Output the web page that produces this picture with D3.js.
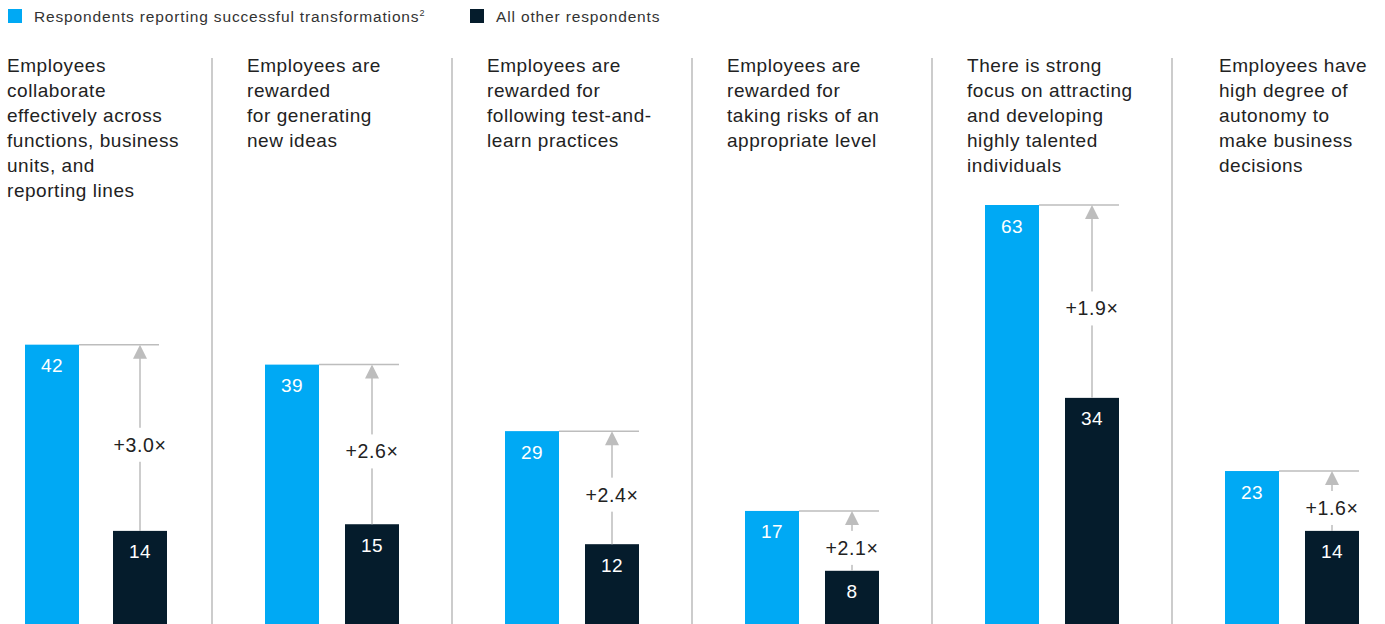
<!DOCTYPE html>
<html>
<head>
<meta charset="utf-8">
<script src="https://cdn.jsdelivr.net/npm/d3@7"></script>
<style>
  html, body { margin: 0; padding: 0; background: #fff; }
  svg { display: block; font-family: "Liberation Sans", Arial, sans-serif; }
</style>
</head>
<body>
<svg id="chart" width="1385" height="624"></svg>
<script>
// Share of respondents agreeing with each statement, %
const categories = [
  ["Employees", "collaborate", "effectively across", "functions, business", "units, and", "reporting lines"],
  ["Employees are", "rewarded", "for generating", "new ideas"],
  ["Employees are", "rewarded for", "following test-and-", "learn practices"],
  ["Employees are", "rewarded for", "taking risks of an", "appropriate level"],
  ["There is strong", "focus on attracting", "and developing", "highly talented", "individuals"],
  ["Employees have", "high degree of", "autonomy to", "make business", "decisions"]
];
const successful = [42, 39, 29, 17, 63, 23];
const others = [14, 15, 12, 8, 34, 14];
const multipliers = ["+3.0×", "+2.6×", "+2.4×", "+2.1×", "+1.9×", "+1.6×"];
const legendLabels = ["Respondents reporting successful transformations", "All other respondents"];

const BLUE = "#00A9F4";
const NAVY = "#051C2C";
const GREY = "#BDBDBD";

const W = 1385, H = 624;
const svg = d3.select("#chart");

const panelW = 240;
const x = d3.scaleLinear().domain([0, categories.length]).range([0, panelW * categories.length]);
const y = d3.scaleLinear().domain([0, 63]).range([H, 205]);

const barW = 54;
const blueOff = 25;
const navyOff = [113, 105, 105, 105, 105, 105];
const textOff = [7, 7, 7, 7, 7, 19];
const lineEnd = 159;

// Legend
const legend = svg.append("g");
const legendItems = [
  { x: 8, color: BLUE, label: legendLabels[0], sup: "2" },
  { x: 470, color: NAVY, label: legendLabels[1] }
];
legendItems.forEach(d => {
  legend.append("rect").attr("x", d.x).attr("y", 9).attr("width", 14).attr("height", 14).attr("fill", d.color);
  const t = legend.append("text").attr("x", d.x + 26).attr("y", 21.5)
    .attr("font-size", 15.5).attr("letter-spacing", 0.85).attr("fill", "#333").text(d.label);
  if (d.sup) t.append("tspan").attr("font-size", 9).attr("letter-spacing", 0).attr("dy", -6).attr("dx", 0).text(d.sup);
});

// Dividers between panels
svg.selectAll("line.divider").data(d3.range(1, categories.length)).join("line")
  .attr("class", "divider")
  .attr("x1", i => x(i) - 28).attr("x2", i => x(i) - 28)
  .attr("y1", 58).attr("y2", H)
  .attr("stroke", "#CCCCCC").attr("stroke-width", 2);

const panels = svg.selectAll("g.panel").data(categories).join("g")
  .attr("class", "panel")
  .attr("transform", (d, i) => `translate(${x(i)},0)`);

// Statement text
panels.append("text")
  .attr("font-size", 19).attr("letter-spacing", 0.55).attr("fill", "#222")
  .each(function (lines, i) {
    d3.select(this).selectAll("tspan").data(lines).join("tspan")
      .attr("x", textOff[i]).attr("y", (l, k) => 72 + k * 25).text(l => l);
  });

// Reference line from the top of the blue bar
panels.append("line")
  .attr("x1", blueOff + barW).attr("x2", lineEnd)
  .attr("y1", (d, i) => y(successful[i])).attr("y2", (d, i) => y(successful[i]))
  .attr("stroke", GREY).attr("stroke-width", 1.5);

// Bars
panels.append("rect")
  .attr("x", blueOff).attr("width", barW)
  .attr("y", (d, i) => y(successful[i]))
  .attr("height", (d, i) => H - y(successful[i]))
  .attr("fill", BLUE);
panels.append("rect")
  .attr("x", (d, i) => navyOff[i]).attr("width", barW)
  .attr("y", (d, i) => y(others[i]))
  .attr("height", (d, i) => H - y(others[i]))
  .attr("fill", NAVY);

// Value labels
panels.append("text")
  .attr("x", blueOff + barW / 2).attr("y", (d, i) => y(successful[i]) + 27.5)
  .attr("text-anchor", "middle").attr("font-size", 19).attr("letter-spacing", 0.5).attr("fill", "#fff")
  .text((d, i) => successful[i]);
panels.append("text")
  .attr("x", (d, i) => navyOff[i] + barW / 2).attr("y", (d, i) => y(others[i]) + 27.5)
  .attr("text-anchor", "middle").attr("font-size", 19).attr("letter-spacing", 0.5).attr("fill", "#fff")
  .text((d, i) => others[i]);

// Arrows from navy bar up to blue level
const ax = i => navyOff[i] + barW / 2;
panels.append("line")
  .attr("x1", (d, i) => ax(i)).attr("x2", (d, i) => ax(i))
  .attr("y1", (d, i) => y(others[i])).attr("y2", (d, i) => y(successful[i]) + 12)
  .attr("stroke", GREY).attr("stroke-width", 1.5);
panels.append("path")
  .attr("d", (d, i) => {
    const cx = ax(i), ty = y(successful[i]);
    return `M${cx},${ty} L${cx - 7},${ty + 14} L${cx + 7},${ty + 14} Z`;
  })
  .attr("fill", GREY);

// Multiplier labels on white backing
const mid = i => (y(others[i]) + y(successful[i])) / 2 + 7;
panels.append("rect")
  .attr("x", (d, i) => ax(i) - 31).attr("width", 62)
  .attr("y", (d, i) => mid(i) - 17).attr("height", 34)
  .attr("fill", "#fff");
panels.append("text")
  .attr("x", (d, i) => ax(i)).attr("y", (d, i) => mid(i) + 7)
  .attr("text-anchor", "middle").attr("font-size", 19.5).attr("letter-spacing", 0.6).attr("fill", "#222")
  .text((d, i) => multipliers[i]);
</script>
</body>
</html>
